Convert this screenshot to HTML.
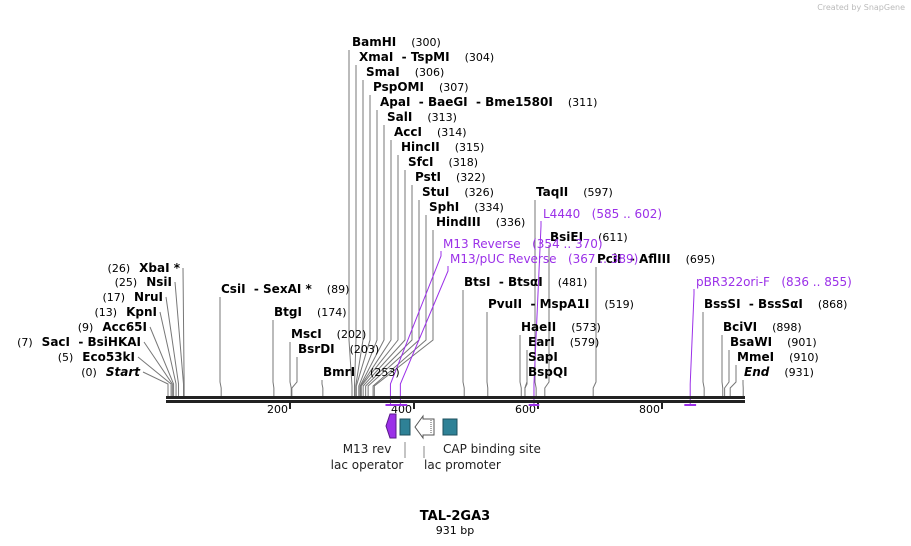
<!DOCTYPE html>
<html><head><meta charset="utf-8"><style>
body{margin:0;background:#fff;}
svg{display:block;font-family:"DejaVu Sans","Liberation Sans",sans-serif;}
.n{font-weight:bold;font-size:12px;fill:#000}
.p{font-size:11px;fill:#000}
.f{font-size:12px;fill:#9b30e8}
</style></head><body>
<svg id="map" width="911" height="546" viewBox="0 0 911 546">
<text x="905" y="10" text-anchor="end" font-size="8" fill="#bbb">Created by SnapGene</text>
<g id="leaders"></g>
<g id="labels"></g>
<rect x="166" y="396" width="579" height="3" fill="#222"/>
<rect x="166" y="400" width="579" height="3" fill="#222"/>
<g id="ticks"></g>
<g id="featbars"></g>
<path d="M386,426 L390,414 L396,414 L396,438 L390,438 Z" fill="#9b30e8" stroke="#5a1a8a"/>
<rect x="400" y="419" width="10" height="16" fill="#2e8196" stroke="#1d4f5c"/>
<path d="M415,427 L423,416 L423,419 L434,419 L434,435 L423,435 L423,438 Z" fill="#fff" stroke="#555"/>
<line x1="431" y1="420" x2="431" y2="434" stroke="#555" stroke-dasharray="1,1"/>
<rect x="443" y="419" width="14" height="16" fill="#2e8196" stroke="#1d4f5c"/>
<line x1="405" y1="442" x2="405" y2="458" stroke="#888"/>
<line x1="424" y1="446" x2="424" y2="458" stroke="#888"/>
<g font-size="12" fill="#222">
<text x="367" y="453" text-anchor="middle">M13 rev</text>
<text x="367" y="469" text-anchor="middle">lac operator</text>
<text x="424" y="469">lac promoter</text>
<text x="443" y="453">CAP binding site</text>
</g>
<text x="455" y="520" text-anchor="middle" font-weight="bold" font-size="13">TAL-2GA3</text>
<text x="455" y="534" text-anchor="middle" font-size="11">931 bp</text>
</svg>
<script>
const NS="http://www.w3.org/2000/svg";
const tickValues=[200,400,600,800];
const topSites=[
["BamHI","(300)",300,352,46],["XmaI  - TspMI","(304)",304,359,61],["SmaI","(306)",306,366,76],
["PspOMI","(307)",307,373,91],["ApaI  - BaeGI  - Bme1580I","(311)",311,380,106],["SalI","(313)",313,387,121],
["AccI","(314)",314,394,136],["HincII","(315)",315,401,151],["SfcI","(318)",318,408,166],
["PstI","(322)",322,415,181],["StuI","(326)",326,422,196],["SphI","(334)",334,429,211],["HindIII","(336)",336,436,226]];
const midSites=[
["CsiI  - SexAI *","(89)",89,221,293],["BtgI","(174)",174,274,316],["MscI","(202)",202,291,338],
["BsrDI","(203)",203,298,353],["BmrI","(253)",253,323,376],["TaqII","(597)",597,536,196],
["BsiEI","(611)",611,550,241],["PciI  - AflIII","(695)",689,597,263],["BtsI  - BtsαI","(481)",481,464,286],
["PvuII  - MspA1I","(519)",519,488,308],["HaeII","(573)",573,521,331],["EarI","(579)",579,528,346],
["SapI","",579,528,361],["BspQI","",579,528,376],["BssSI  - BssSαI","(868)",868,704,308],
["BciVI","(898)",898,723,331],["BsaWI","(901)",901,730,346],["MmeI","(910)",910,737,361],["End","(931)",931,744,376]];
const leftSites=[
["XbaI *","(26)",26,180,272],["NsiI","(25)",25,172,286],["NruI","(17)",17,163,301],["KpnI","(13)",13,157,316],
["Acc65I","(9)",9,147,331],["SacI  - BsiHKAI","(7)",7,141,346],["Eco53kI","(5)",5,135,361],["Start","(0)",0,140,376]];
const featNames=["L4440","M13 Reverse","M13/pUC Reverse","pBR322ori-F"];
const featRanges=[[585,602],[354,370],[367,389],[836,855]];
const featPos=[[543,218],[443,248],[450,263],[696,286]];
const x=bp=>166+bp*0.62;
const L=document.getElementById('leaders'),T=document.getElementById('labels');
function line(pts,color){const p=document.createElementNS(NS,'polyline');
p.setAttribute('points',pts.map(a=>a.join(',')).join(' '));p.setAttribute('fill','none');
p.setAttribute('stroke',color);p.setAttribute('stroke-width','1');


L.appendChild(p);}
function label(nm,pos,lx,ly,anchorEnd,italic){const g=document.createElementNS(NS,'text');
g.setAttribute('x',lx);g.setAttribute('y',ly);if(anchorEnd)g.setAttribute('text-anchor','end');


g.setAttribute('xml:space','preserve');g.style.whiteSpace='pre';
const s1=document.createElementNS(NS,'tspan'),s2=document.createElementNS(NS,'tspan');
s1.setAttribute('class','n');s2.setAttribute('class','p');
if(italic)s1.setAttribute('font-style','italic');
s1.textContent=nm;s2.textContent=pos;
if(anchorEnd){s1.setAttribute('dx','9');g.appendChild(s2);g.appendChild(s1);}
else{s2.setAttribute('dx','15');g.appendChild(s1);if(pos)g.appendChild(s2);}
T.appendChild(g);}
topSites.forEach(s=>{const sx=x(s[2]),lx=s[3]-3;line([[lx,s[4]+4],[lx,340],[sx,386],[sx,397]],'#777');label(s[0],s[1],s[3],s[4],false,false);});
midSites.forEach(s=>{const sx=x(s[2]),lx=Math.min(s[3]-1,sx+6);line([[lx,s[4]+4],[lx,Math.max(s[4]+8,382)],[sx,388],[sx,397]],'#777');label(s[0],s[1],s[3],s[4],false,s[0]=="End");});
leftSites.forEach(s=>{const sx=x(s[2]);line([[s[3]+3,s[4]-4],[sx+2,384],[sx+2,397]],'#777');label(s[0],s[1],s[3],s[4],true,s[0]=="Start");});
featNames.forEach((n,i)=>{const a=x(featRanges[i][0]),b=x(featRanges[i][1]),c=(a+b)/2,lx=featPos[i][0]-2,ly=featPos[i][1];
line([[lx,ly+3],[lx,ly+8],[c,384],[c,406]],'#9b30e8');
const r=document.createElementNS(NS,'rect');r.setAttribute('x',a);r.setAttribute('y',404);r.setAttribute('width',Math.max(b-a,3));r.setAttribute('height',2);r.setAttribute('fill','#9b30e8');


document.getElementById('featbars').appendChild(r);
const t=document.createElementNS(NS,'text');t.setAttribute('x',featPos[i][0]);t.setAttribute('y',ly);t.setAttribute('class','f');
t.setAttribute('xml:space','preserve');t.style.whiteSpace='pre';
t.textContent=n+'   ('+featRanges[i][0]+' .. '+featRanges[i][1]+')';


T.appendChild(t);});
const TK=document.getElementById('ticks');
tickValues.forEach(v=>{const tx=x(v);const l=document.createElementNS(NS,'rect');l.setAttribute('x',tx-1);l.setAttribute('y',403);l.setAttribute('width',2);l.setAttribute('height',6);l.setAttribute('fill','#222');


TK.appendChild(l);
const t=document.createElementNS(NS,'text');t.setAttribute('x',tx-2);t.setAttribute('y',413);t.setAttribute('text-anchor','end');t.setAttribute('font-size','11');t.textContent=v;


TK.appendChild(t);});
</script>
</body></html>
